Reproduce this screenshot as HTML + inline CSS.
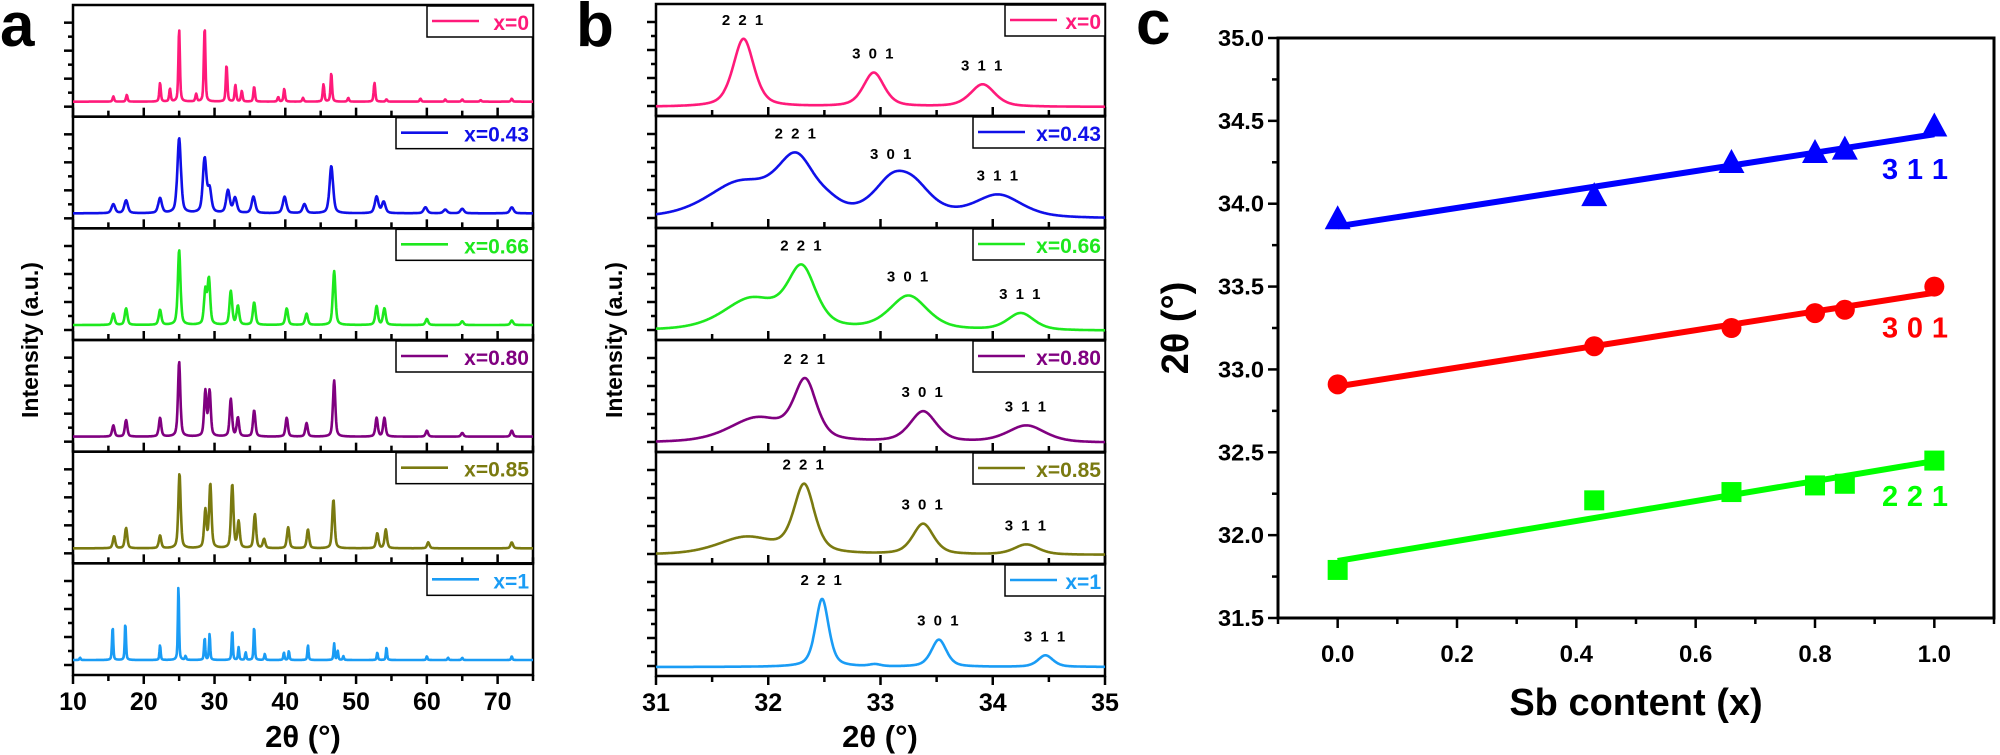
<!DOCTYPE html>
<html><head><meta charset="utf-8"><style>
html,body{margin:0;padding:0;background:#fff;}
svg{display:block;font-family:"Liberation Sans",Arial,sans-serif;}
</style></head><body>
<svg id="fig" width="2000" height="755" viewBox="0 0 2000 755" xmlns="http://www.w3.org/2000/svg">
<text x="0" y="46" font-size="62" font-weight="bold">a</text>
<text x="576" y="46" font-size="62" font-weight="bold">b</text>
<text x="1136" y="44" font-size="62" font-weight="bold">c</text>
<text transform="translate(38,340) rotate(-90)" text-anchor="middle" font-size="23" font-weight="bold">Intensity (a.u.)</text>
<text transform="translate(622,340) rotate(-90)" text-anchor="middle" font-size="23" font-weight="bold">Intensity (a.u.)</text>
<text x="303" y="747" text-anchor="middle" font-size="31" font-weight="bold">2θ (°)</text>
<text x="880" y="747" text-anchor="middle" font-size="31" font-weight="bold">2θ (°)</text>
<text x="1636" y="715" text-anchor="middle" font-size="38" font-weight="bold">Sb content (x)</text>
<text transform="translate(1188,328) rotate(-90)" text-anchor="middle" font-size="38" font-weight="bold">2θ (°)</text>
</svg>
<script>
// ---------- data ----------
const sampleLabels = ['x=0','x=0.43','x=0.66','x=0.80','x=0.85','x=1'];
const sampleColors = ['#ff1a7a','#1010e8','#1ee81e','#800080','#7a7a10','#1a9cf5'];
// panel a peaks (2θ positions, relative intensities)
const aPos0 = [15.7,17.6,22.3,23.7,25.0,27.4,28.6,31.7,32.95,33.85,35.6,39.0,39.85,42.5,45.4,46.5,48.9,52.6,54.3,59.1,62.6,65.0,67.6,72.0];
const aInt0 = [0.07,0.09,0.25,0.17,0.97,0.1,1.0,0.49,0.22,0.14,0.2,0.06,0.17,0.05,0.23,0.38,0.05,0.25,0.03,0.04,0.03,0.03,0.02,0.04];
const aPos1 = [15.7,17.5,22.3,25.0,28.6,29.3,31.9,32.9,35.5,39.9,42.7,46.5,52.9,53.9,59.8,62.6,65.0,72.0];
const aInt1 = [0.12,0.17,0.2,1.0,0.72,0.3,0.3,0.2,0.22,0.22,0.12,0.63,0.22,0.15,0.08,0.05,0.06,0.08];
const aPos2 = [15.7,17.5,22.3,25.0,28.7,29.2,32.3,33.3,35.6,40.2,43.0,46.9,52.9,54.0,60.0,65.0,72.0];
const aInt2 = [0.15,0.22,0.2,1.0,0.45,0.6,0.45,0.25,0.3,0.22,0.15,0.72,0.25,0.22,0.08,0.05,0.06];
const aPos3 = [15.7,17.5,22.3,25.0,28.7,29.3,32.3,33.3,35.6,40.2,43.0,46.9,52.9,54.0,60.0,65.0,72.0];
const aInt3 = [0.15,0.22,0.25,1.0,0.6,0.6,0.5,0.25,0.35,0.25,0.18,0.75,0.25,0.25,0.08,0.05,0.08];
const aPos4 = [15.8,17.5,22.3,25.05,28.7,29.4,32.5,33.4,35.7,37.0,40.4,43.2,46.8,53.0,54.2,60.2,72.0];
const aInt4 = [0.16,0.27,0.17,1.0,0.5,0.85,0.85,0.35,0.45,0.12,0.28,0.25,0.65,0.2,0.25,0.08,0.08];
const aPos5 = [11.0,15.6,17.4,22.3,24.9,25.9,28.6,29.3,32.5,33.4,34.4,35.6,37.1,39.8,40.5,43.2,46.9,47.4,48.2,53.0,54.3,60.0,63,65,72.0];
const aInt5 = [0.03,0.45,0.5,0.2,1.0,0.05,0.3,0.35,0.4,0.17,0.1,0.45,0.08,0.1,0.12,0.2,0.22,0.12,0.05,0.1,0.17,0.05,0.03,0.03,0.05];
const aWidth = [0.13,0.3,0.22,0.2,0.2,0.1];
// panel b peaks (221, 301, 311 + shoulders)
const bPos0 = [31.78,32.94,33.91];
const bInt0 = [1.0,0.5,0.33];
const bWid0 = [0.11,0.11,0.13];
const bPos1 = [31.75,32.25,32.55,33.1,33.3,34.05];
const bInt1 = [0.5,0.8,0.1,0.45,0.35,0.33];
const bWid1 = [0.35,0.2,0.15,0.2,0.2,0.25];
const bPos2 = [31.85,32.3,33.25,34.25];
const bInt2 = [0.45,0.85,0.5,0.25];
const bWid2 = [0.3,0.15,0.2,0.14];
const bPos3 = [31.9,32.33,33.38,34.3];
const bInt3 = [0.35,0.85,0.45,0.25];
const bWid3 = [0.3,0.12,0.14,0.2];
const bPos4 = [31.8,32.32,33.38,34.3];
const bInt4 = [0.25,1.0,0.45,0.15];
const bWid4 = [0.3,0.11,0.11,0.13];
const bPos5 = [32.48,32.95,33.52,34.47];
const bInt5 = [1.0,0.03,0.4,0.17];
const bWid5 = [0.07,0.06,0.08,0.08];
const bLabelIdx = [[0,1,2],[1,3,5],[1,2,3],[1,2,3],[1,2,3],[0,2,3]];
const hklNames = ['2 2 1','3 0 1','3 1 1'];
// panel c
const cX = [0,0.43,0.66,0.80,0.85,1.0];
const c311 = [33.90,34.04,34.24,34.30,34.32,34.46];
const c301 = [32.91,33.14,33.25,33.34,33.36,33.50];
const c221 = [31.79,32.21,32.26,32.30,32.31,32.45];
const cXTicks = ['0.0','0.2','0.4','0.6','0.8','1.0'];
const cYTicks = ['31.5','32.0','32.5','33.0','33.5','34.0','34.5','35.0'];

const aPos=[aPos0,aPos1,aPos2,aPos3,aPos4,aPos5], aInt=[aInt0,aInt1,aInt2,aInt3,aInt4,aInt5];
const bPos=[bPos0,bPos1,bPos2,bPos3,bPos4,bPos5], bInt=[bInt0,bInt1,bInt2,bInt3,bInt4,bInt5], bWid=[bWid0,bWid1,bWid2,bWid3,bWid4,bWid5];

// ---------- helpers ----------
const NS='http://www.w3.org/2000/svg';
const svg=document.getElementById('fig');
function mk(tag,attrs){const e=document.createElementNS(NS,tag);for(const k in attrs)e.setAttribute(k,attrs[k]);svg.appendChild(e);return e;}
function prof(x,c,w){const d=(x-c)/w;return 0.5/(1+d*d)+0.5*Math.exp(-0.693*d*d);}

function drawStack(P){
  const h=(P.B-P.T)/6;
  const sx=v=>P.L+(v-P.x0)/(P.x1-P.x0)*(P.R-P.L);
  for(let i=0;i<6;i++){
    const top=P.T+i*h, bot=top+h;
    const r=mk('rect',{x:P.L,y:top,width:P.R-P.L,height:h,fill:'none',stroke:'#000','stroke-width':2.5});
    
    
    let k=0;
    for(let y=bot-10;y>top+4;y-=14){
      const len=(k%2==0)?9:5;
      const t=mk('line',{x1:P.L-len,x2:P.L,y1:y,y2:y,stroke:'#000','stroke-width':2.5});
      
      
      k++;
    }
    for(let v=P.x0;v<=P.x1+1e-9;v+=P.minor){
      const isMaj=Math.abs(((v-P.x0)/P.major)-Math.round((v-P.x0)/P.major))<1e-6;
      const len=isMaj?9:6;
      const X=sx(v);
      if(i<5){
        const t=mk('line',{x1:X,x2:X,y1:bot-len,y2:bot,stroke:'#000','stroke-width':2.5});
        
        
      } else {
        const t=mk('line',{x1:X,x2:X,y1:bot,y2:bot+len,stroke:'#000','stroke-width':2.5});
        
        
      }
    }
    const pos=P.pos[i], inten=P.inten[i];
    const base=bot-P.baseOff, amp=P.amp;
    const yOf=x=>{let s=0;for(let j=0;j<pos.length;j++){const w=P.wid?P.wid[i][j]:P.w[i];s+=inten[j]*prof(x,pos[j],w);}return base-amp*Math.min(s,1.05);};
    let d='';
    const N=900;
    for(let n=0;n<=N;n++){const x=P.x0+(P.x1-P.x0)*n/N;d+=(n?'L':'M')+sx(x).toFixed(1)+','+yOf(x).toFixed(1);}
    const c=mk('path',{d:d,fill:'none',stroke:sampleColors[i],'stroke-width':2.6,'stroke-linejoin':'round'});
    
    
    if(P.labels){
      for(let q=0;q<3;q++){
        const pj=bLabelIdx[i][q];
        const px=pos[pj];
        const tx=mk('text',{x:sx(px),y:yOf(px)-14,'text-anchor':'middle','font-size':15,'font-weight':'bold','letter-spacing':'2'});
        tx.textContent=hklNames[q];
        
        
      }
    }
    const lw=(sampleLabels[i].length<=3)?P.lwS:P.lwL;
    const lb=mk('rect',{x:P.R-lw,y:top+1,width:lw,height:31,fill:'#fff',stroke:'#000','stroke-width':1.5});
    
    
    const ll=mk('line',{x1:P.R-lw+5,x2:P.R-lw+52,y1:top+16,y2:top+16,stroke:sampleColors[i],'stroke-width':2.6});
    
    
    const lt=mk('text',{x:P.R-4,y:top+25,'text-anchor':'end','font-size':21,'font-weight':'bold',fill:sampleColors[i]});
    lt.textContent=sampleLabels[i];
    
    
  }
  for(let v=P.x0;v<=P.x1+1e-9;v+=P.major){
    if(P.skipLast && v>P.x1-1e-9) continue;
    const t=mk('text',{x:sx(v),y:P.B+35,'text-anchor':'middle','font-size':25,'font-weight':'bold'});
    t.textContent=String(Math.round(v));
    
    
  }
}

drawStack({id:'panel-a',L:73,R:533,T:5,B:675,x0:10,x1:75,major:10,minor:5,pos:aPos,inten:aInt,w:aWidth,baseOff:15,amp:75,lwS:106,lwL:137,labels:false,skipLast:true});
drawStack({id:'panel-b',L:656,R:1105,T:4,B:676,x0:31,x1:35,major:1,minor:0.5,pos:bPos,inten:bInt,wid:bWid,baseOff:9,amp:68,lwS:100,lwL:132,labels:true,skipLast:false});

// ---------- panel c ----------
const CL=1278,CR=1994,CT=38,CB=618;
const cx=v=>CL+(v+0.1)/1.2*(CR-CL);
const cy=v=>CB-(v-31.5)/3.5*(CB-CT);
const frame=mk('rect',{x:CL,y:CT,width:CR-CL,height:CB-CT,fill:'none',stroke:'#000','stroke-width':3});


for(let v=-0.1;v<=1.1001;v+=0.1){
  const maj=Math.round(v*10)%2===0;
  const t=mk('line',{x1:cx(v),x2:cx(v),y1:CB,y2:CB+(maj?10:6),stroke:'#000','stroke-width':2.5});
  
  
}
cXTicks.forEach(s=>{
  const t=mk('text',{x:cx(parseFloat(s)),y:CB+44,'text-anchor':'middle','font-size':24,'font-weight':'bold'});
  t.textContent=s;
  
  
});
for(let v=31.5;v<=35.0001;v+=0.25){
  const maj=Math.abs(v*2-Math.round(v*2))<1e-6;
  const t=mk('line',{x1:CL-(maj?10:6),x2:CL,y1:cy(v),y2:cy(v),stroke:'#000','stroke-width':2.5});
  
  
}
cYTicks.forEach(s=>{
  const t=mk('text',{x:CL-14,y:cy(parseFloat(s))+8,'text-anchor':'end','font-size':23,'font-weight':'bold','textLength':46,'lengthAdjust':'spacingAndGlyphs'});
  t.textContent=s;
  
  
});
function fit(xs,ys){const n=xs.length;let mx=0,my=0;for(let i=0;i<n;i++){mx+=xs[i];my+=ys[i];}mx/=n;my/=n;let a=0,b=0;for(let i=0;i<n;i++){a+=(xs[i]-mx)*(ys[i]-my);b+=(xs[i]-mx)**2;}const s=a/b;return [my-s*mx,s];}
const cSeries=[[c311,'#0000ff','311','tri','3 1 1'],[c301,'#ff0000','301','circ','3 0 1'],[c221,'#00ff00','221','sq','2 2 1']];
cSeries.forEach(([ys,col,nm,shape,lab])=>{
  const [b0,s]=fit(cX,ys);
  const fl=mk('line',{x1:cx(0),y1:cy(b0),x2:cx(1),y2:cy(b0+s),stroke:col,'stroke-width':6});
  
  
  ys.forEach((v,i)=>{
    const X=cx(cX[i]),Y=cy(v);
    let m;
    if(shape==='tri') m=mk('polygon',{points:`${X},${Y-15} ${X-13},${Y+9} ${X+13},${Y+9}`,fill:col});
    else if(shape==='circ') m=mk('circle',{cx:X,cy:Y,r:10,fill:col});
    else m=mk('rect',{x:X-10,y:Y-10,width:20,height:20,fill:col});
    
    
  });
  const lt=mk('text',{x:1948,y:cy(b0+s)+45,'text-anchor':'end','font-size':29,'font-weight':'bold',fill:col,'textLength':66,'lengthAdjust':'spacing'});
  lt.textContent=lab;
  
  
});
</script>
</body></html>
